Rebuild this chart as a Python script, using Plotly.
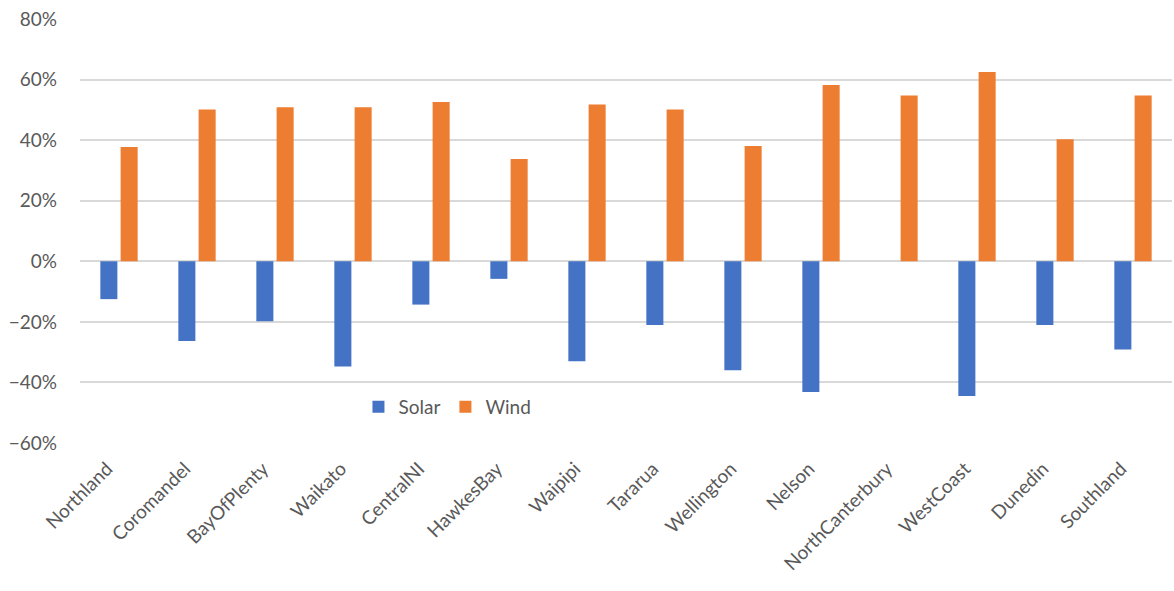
import plotly.graph_objects as go

regions = ["Northland", "Coromandel", "BayOfPlenty", "Waikato", "CentralNI", "HawkesBay",
           "Waipipi", "Tararua", "Wellington", "Nelson", "NorthCanterbury", "WestCoast",
           "Dunedin", "Southland"]
solar = [-0.125, -0.263, -0.198, -0.347, -0.143, -0.058, -0.33, -0.21, -0.36, -0.432,
         0.0, -0.445, -0.21, -0.291]
wind = [0.377, 0.501, 0.509, 0.509, 0.526, 0.338, 0.518, 0.501, 0.381, 0.582,
        0.547, 0.625, 0.403, 0.547]
y_ticks = [-0.6, -0.4, -0.2, 0.0, 0.2, 0.4, 0.6, 0.8]

FONT = "Lato"
GREY_TEXT = "#595959"

fig = go.Figure()
fig.add_trace(go.Bar(name="Solar", x=regions, y=solar, marker_color="#4472C4",
                     marker_line_width=0))
fig.add_trace(go.Bar(name="Wind", x=regions, y=wind, marker_color="#ED7D31",
                     marker_line_width=0))

fig.update_layout(
    width=1174, height=591,
    margin=dict(l=80, r=2, t=19, b=148),
    paper_bgcolor="white", plot_bgcolor="white",
    barmode="group", bargap=0.48, bargroupgap=0.16,
    font=dict(family=FONT, size=18, color=GREY_TEXT),
    legend=dict(orientation="h", x=0.255, y=0.085, xanchor="left", yanchor="middle",
                bgcolor="rgba(0,0,0,0)", font=dict(size=19, color=GREY_TEXT),
                itemwidth=30, tracegroupgap=0),
    showlegend=True,
)
fig.update_xaxes(tickangle=-45, showgrid=False, showline=False, ticks="",
                 ticklabelstandoff=10, ticklabelshift=-12,
                 tickfont=dict(size=19, color=GREY_TEXT))
fig.update_yaxes(range=[-0.6, 0.8], tickvals=y_ticks, tickformat=".0%",
                 showgrid=True, gridcolor="#D9D9D9", gridwidth=1.5,
                 zeroline=True, zerolinecolor="#D9D9D9", zerolinewidth=1.5,
                 showline=False, ticks="", ticklabelstandoff=22,
                 tickfont=dict(size=19, color=GREY_TEXT))

fig.write_html("out.html")
